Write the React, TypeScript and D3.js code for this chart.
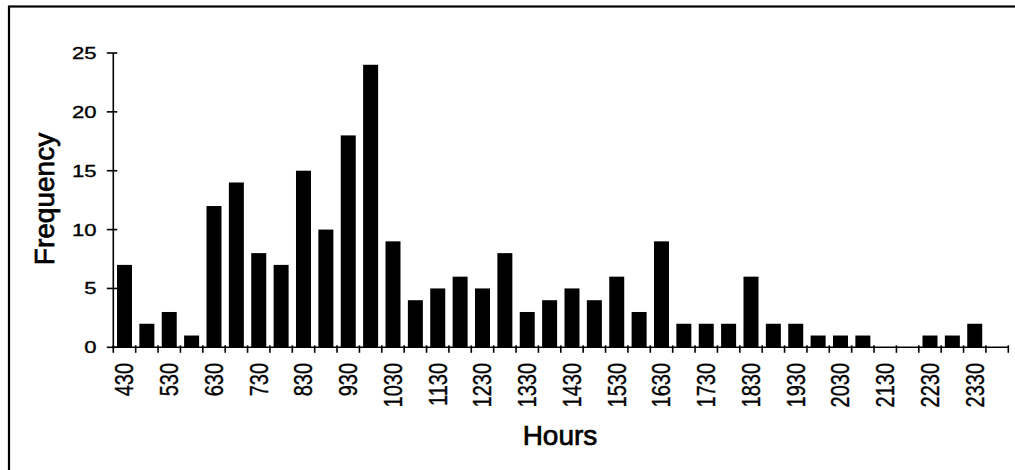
import React from "react";
import * as d3 from "d3";

const categories: string[] = [
  "430", "500", "530", "600", "630", "700", "730", "800", "830", "900",
  "930", "1000", "1030", "1100", "1130", "1200", "1230", "1300", "1330", "1400",
  "1430", "1500", "1530", "1600", "1630", "1700", "1730", "1800", "1830", "1900",
  "1930", "2000", "2030", "2100", "2130", "2200", "2230", "2300", "2330", "2400",
];
const frequency: number[] = [
  7, 2, 3, 1, 12, 14, 8, 7, 15, 10,
  18, 24, 9, 4, 5, 6, 5, 8, 3, 4,
  5, 4, 6, 3, 9, 2, 2, 2, 6, 2,
  2, 1, 1, 1, 0, 0, 1, 1, 2, 0,
];
const yTicks: number[] = [0, 5, 10, 15, 20, 25];
const xTitle = "Hours";
const yTitle = "Frequency";

const W = 1015;
const H = 470;
const left = 113.3;
const right = 1008.3;
const bottom = 347.3;
const top = 53;
const FONT = "'Liberation Sans', Arial, sans-serif";

export default function App() {
  const x = d3
    .scaleBand<string>()
    .domain(categories)
    .range([left, right])
    .paddingInner(0.33)
    .paddingOuter(0.165);
  const y = d3.scaleLinear().domain([0, 25]).range([bottom, top]);
  const step = x.step();
  const bw = x.bandwidth();
  const boundaries = d3.range(categories.length + 1).map((i) => left + i * step);

  return (
    <svg
      width={W}
      height={H}
      style={{ position: "fixed", left: 0, top: 0, background: "#fff" }}
    >
      <rect x={0} y={0} width={W} height={H} fill="#fff" />
      <rect x={9} y={6.5} width={W + 50} height={H + 50} fill="none" stroke="#000" strokeWidth={2.2} />

      {categories.map((c, i) => (
        <rect
          key={c}
          x={x(c)!}
          y={y(frequency[i])}
          width={bw}
          height={bottom - y(frequency[i])}
          fill="#000"
        />
      ))}

      {/* y axis */}
      <line x1={left} x2={left} y1={y(25)} y2={bottom} stroke="#000" strokeWidth={1.6} />
      {yTicks.map((t) => (
        <g key={t}>
          <line x1={left - 6.5} x2={left + 4} y1={y(t)} y2={y(t)} stroke="#000" strokeWidth={1.6} />
          <text
            transform={`translate(96.5,${y(t)}) scale(1.3,1)`}
            textAnchor="end"
            dominantBaseline="central"
            fontFamily={FONT}
            fontSize={17}
            fill="#000"
            stroke="#000"
            strokeWidth={0.35}
          >
            {t}
          </text>
        </g>
      ))}

      {/* x axis */}
      <line x1={left} x2={right} y1={bottom} y2={bottom} stroke="#000" strokeWidth={1.6} />
      {boundaries.map((bx, i) => (
        <line key={i} x1={bx} x2={bx} y1={bottom - 2} y2={bottom + 5.5} stroke="#000" strokeWidth={1.6} />
      ))}
      {categories.map((c, i) =>
        i % 2 === 0 ? (
          <text
            key={c}
            transform={`translate(${x(c)! + bw / 2},363) scale(1.26,1) rotate(-90)`}
            textAnchor="end"
            dominantBaseline="central"
            fontFamily={FONT}
            fontSize={20}
            fill="#000"
            stroke="#000"
            strokeWidth={0.3}
          >
            {c}
          </text>
        ) : null
      )}

      <text
        x={560}
        y={445}
        textAnchor="middle"
        fontFamily={FONT}
        fontSize={28}
        fill="#000"
        stroke="#000"
        strokeWidth={0.7}
      >
        {xTitle}
      </text>
      <text
        transform={`translate(53.5,199) rotate(-90)`}
        textAnchor="middle"
        fontFamily={FONT}
        fontSize={28}
        fill="#000"
        stroke="#000"
        strokeWidth={0.7}
      >
        {yTitle}
      </text>
    </svg>
  );
}
